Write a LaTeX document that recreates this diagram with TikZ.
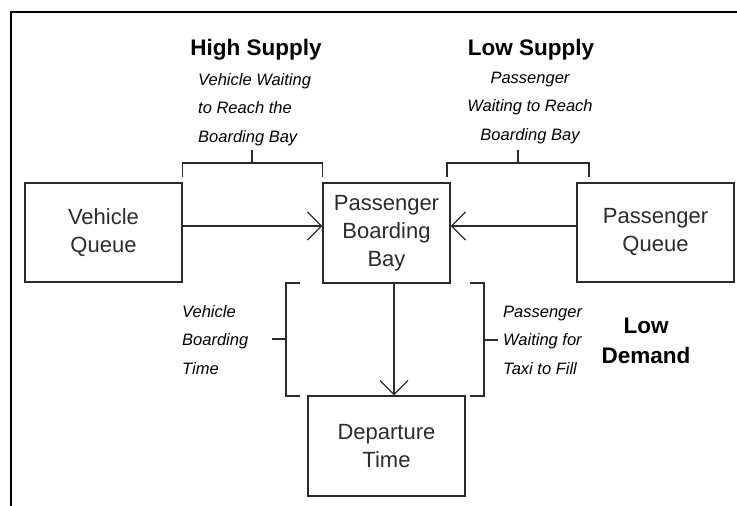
\documentclass[tikz,border=0pt]{standalone}
\usepackage{fontspec}
\setmainfont{Liberation Sans}
\usetikzlibrary{arrows.meta}
\definecolor{ink}{HTML}{2B2B2B}
\tikzset{
  x=1pt, y=-1pt,
  box/.style={draw=ink, line width=1.3pt, inner sep=0pt, align=center,
              text=ink, font=\fontsize{22}{28}\selectfont},
  head/.style={font=\fontsize{22.5}{30}\selectfont\bfseries, align=center, inner sep=0pt},
  note/.style={font=\fontsize{16.5}{28.3}\selectfont\itshape, inner sep=0pt},
  brace/.style={draw=ink, line width=1.3pt},
  flow/.style={draw=ink, line width=1.3pt,
               -{Straight Barb[length=14pt, width=28pt, line width=1.3pt]}},
  frame/.style={draw=black, line width=2pt}
}
\begin{document}
\begin{tikzpicture}
\useasboundingbox (0,0) rectangle (737,506);

% outer frame (top and left edges only)
\draw[frame] (11,506) -- (11,12) -- (737,12);

% boxes
\node[box, minimum width=157pt, minimum height=99pt] (vq)  at (103.5,232.5) {Vehicle\\Queue};
\node[box, minimum width=127pt, minimum height=100pt] (pbb) at (386.5,233) {Passenger\\Boarding\\Bay};
\node[box, minimum width=157pt, minimum height=99pt] (pq)  at (655.5,232.5) {Passenger\\Queue};
\node[box, minimum width=157pt, minimum height=100pt] (dep) at (386.5,446) {Departure\\Time};

% flows
\draw[flow] (vq.east |- 0,226) -- (pbb.west |- 0,226);
\draw[flow] (pq.west |- 0,226) -- (pbb.east |- 0,226);
\draw[flow] (pbb.south -| 394,0) -- (dep.north -| 394,0);

% brackets above
\coordinate (tl) at (252,163);
\coordinate (tr) at (518,163);
\draw[brace] (vq.east |- 0,177) -- (vq.east |- tl) -- (pbb.west |- tl) -- (pbb.west |- 0,177);
\draw[brace] (tl) -- (252,150);
\draw[brace] (447,177) -- (447,163) -- (589,163) -- (589,177);
\draw[brace] (tr) -- (518,150);

% brackets beside the vertical flow
\coordinate (bl) at (286,339);
\coordinate (br) at (484,340);
\draw[brace] (300,283) -- (286,283) -- (286,396) -- (300,396);
\draw[brace] (bl) -- (272,339);
\draw[brace] (470,283) -- (484,283) -- (484,396) -- (470,396);
\draw[brace] (br) -- (498,340);

% headings (base anchor sits on the last line)
\node[head, anchor=base] (hs) at (256,55) {High Supply};
\node[head, anchor=base] (ls) at (531,55) {Low Supply};
\node[head, anchor=base] (ld) at (646,363) {Low\\Demand};

% notes
\node[note, anchor=base west, align=left] (n1) at (198,142) {Vehicle Waiting\\to Reach the\\Boarding Bay};
\node[note, anchor=base, align=center] (n2) at (530,140) {Passenger\\Waiting to Reach\\Boarding Bay};
\node[note, anchor=base west, align=left] (n3) at (182,374) {Vehicle\\Boarding\\Time};
\node[note, anchor=base west, align=left] (n4) at (503,374) {Passenger\\Waiting for\\Taxi to Fill};
\end{tikzpicture}
\end{document}
